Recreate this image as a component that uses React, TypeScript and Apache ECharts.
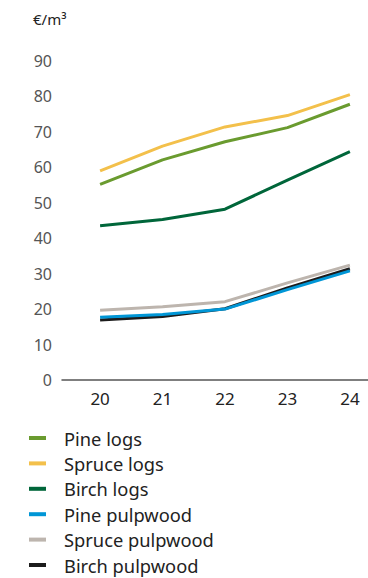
import React, { useEffect, useRef } from "react";
import * as echarts from "echarts";

// Roundwood stumpage prices, €/m³, years 2020–2024
const years = [20, 21, 22, 23, 24];
const pineLogs = [55.2, 62.1, 67.2, 71.2, 77.8];
const spruceLogs = [59.0, 66.0, 71.4, 74.6, 80.5];
const birchLogs = [43.5, 45.3, 48.2, 56.4, 64.4];
const pinePulpwood = [17.7, 18.5, 20.0, 25.5, 30.8];
const sprucePulpwood = [19.7, 20.7, 22.1, 27.4, 32.4];
const birchPulpwood = [16.9, 17.9, 20.1, 26.0, 31.4];

const seriesNames = [
  "Pine logs",
  "Spruce logs",
  "Birch logs",
  "Pine pulpwood",
  "Spruce pulpwood",
  "Birch pulpwood",
];
const seriesValues = [pineLogs, spruceLogs, birchLogs, pinePulpwood, sprucePulpwood, birchPulpwood];
const seriesColors = ["#6a9b2f", "#f3c04b", "#00663a", "#0096d6", "#bdb5ae", "#1c1c1c"];
const seriesZ = [2, 2, 2, 4, 2, 3];

const FONT = "'Noto Sans', 'Open Sans', sans-serif";

export default function App() {
  const ref = useRef<HTMLDivElement>(null);

  useEffect(() => {
    if (!ref.current) return;
    const chart = echarts.init(ref.current, undefined, { renderer: "svg" });

    const series = seriesNames.map((name, i) => ({
      name,
      type: "line",
      data: years.map((y, j) => [y, seriesValues[i][j]]),
      symbol: "none",
      z: seriesZ[i],
      lineStyle: { color: seriesColors[i], width: 3 },
      itemStyle: { color: seriesColors[i] },
    }));

    chart.setOption({
      animation: false,
      textStyle: { fontFamily: FONT },
      grid: { left: 62, right: 0, top: 61, bottom: 198, containLabel: false },
      graphic: [
        {
          type: "text",
          left: 33,
          top: 11,
          style: { text: "€/m³", fontSize: 15, fill: "#222", fontFamily: FONT },
        },
      ],
      xAxis: {
        type: "value",
        min: 19.39,
        max: 24.29,
        splitLine: { show: false },
        axisTick: { show: false },
        axisLine: { show: true, lineStyle: { color: "#555", width: 1.5 } },
        axisLabel: {
          color: "#222",
          fontSize: 17,
          margin: 10,
          showMinLabel: false,
          showMaxLabel: false,
          formatter: (v: number) =>
            Math.abs(v - Math.round(v)) < 1e-6 && years.includes(Math.round(v))
              ? String(Math.round(v))
              : "",
        },
      },
      yAxis: {
        type: "value",
        min: 0,
        max: 90,
        interval: 10,
        splitLine: { show: false },
        axisTick: { show: false },
        axisLine: { show: false },
        axisLabel: { color: "#555", fontSize: 16, margin: 10 },
      },
      legend: {
        orient: "vertical",
        left: 29,
        top: 429,
        height: 149,
        padding: 0,
        data: seriesNames,
        icon: "rect",
        itemWidth: 17,
        itemHeight: 4,
        itemGap: 7.4,
        textStyle: {
          color: "#222",
          fontSize: 18.3,
          lineHeight: 18,
          padding: [0, 0, 0, 13],
          fontFamily: FONT,
        },
      },
      series,
    });

    return () => chart.dispose();
  }, []);

  return (
    <div
      ref={ref}
      style={{ position: "absolute", left: 0, top: 0, width: 368, height: 578 }}
    />
  );
}
